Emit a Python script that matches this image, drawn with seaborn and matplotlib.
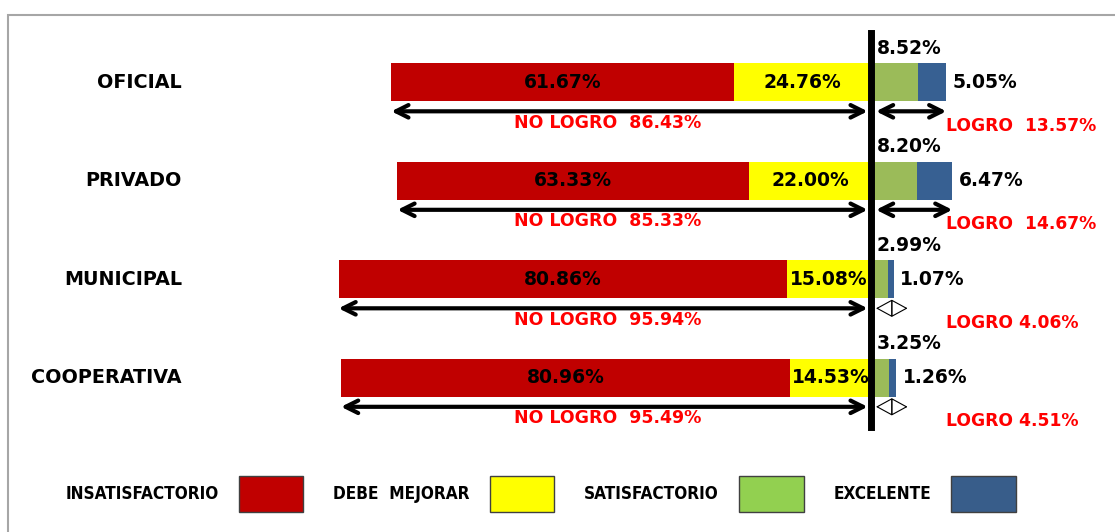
import numpy as np
import matplotlib
matplotlib.use("Agg")
import matplotlib.pyplot as plt
from matplotlib.patches import Patch, Rectangle
import seaborn as sns

categories = ["OFICIAL", "PRIVADO", "MUNICIPAL", "COOPERATIVA"]
insatisfactorio = [61.67, 63.33, 80.86, 80.96]
debe_mejorar = [24.76, 22.00, 15.08, 14.53]
satisfactorio = [8.52, 8.20, 2.99, 3.25]
excelente = [5.05, 6.47, 1.07, 1.26]
no_logro = [86.43, 85.33, 95.94, 95.49]
logro = [13.57, 14.67, 4.06, 4.51]
legend_labels = ["INSATISFACTORIO", "DEBE  MEJORAR", "SATISFACTORIO", "EXCELENTE"]

sns.set_style("white")
plt.rcParams["font.family"] = ["DejaVu Sans"]
plt.rcParams["text.color"] = "black"

RED, YELLOW, GREEN, BLUE = "#C00000", "#FFFF00", "#9BBB59", "#376092"
LEG_COLORS = ["#C00000", "#FFFF00", "#92D050", "#385D8A"]

fig = plt.figure(figsize=(11.15, 5.32), dpi=100)
ax = fig.add_axes([0, 105 / 532, 1, 394 / 532])

ins = np.array(insatisfactorio)
deb = np.array(debe_mejorar)
sat = np.array(satisfactorio)
exc = np.array(excelente)

bw = 0.39
# stacked bars drawn from the outside in so the inner segment covers the outer
for vals, col in [(-(ins + deb), RED), (-deb, YELLOW), (sat + exc, BLUE), (sat, GREEN)]:
    sns.barplot(x=vals, y=categories, orient="h", color=col, saturation=1,
                width=bw, linewidth=0, errorbar=None, ax=ax)

ax.set_xlim(-871 / 5.55, (1115 - 871) / 5.55)
ax.set_ylim(3.5, -0.5)
ax.set_xlabel("")
ax.set_ylabel("")
ax.set_xticks([])
ax.set_yticks([])
ax.set_yticks(np.arange(-0.5, 4.0, 1.0), minor=True)
ax.tick_params(axis="y", which="minor", length=4, width=2.5, direction="out",
               labelleft=False, color="black")
for s in ["top", "right", "bottom"]:
    ax.spines[s].set_visible(False)
ax.spines["left"].set_position(("data", 0))
ax.spines["left"].set_linewidth(5)
ax.spines["left"].set_color("black")
ax.patch.set_alpha(0)

tf = dict(fontsize=13.5, fontweight="bold", color="black")
for i, cat in enumerate(categories):
    ax.text(182 / 1115, i, cat, transform=ax.get_yaxis_transform(),
            ha="right", va="center", fontsize=13.8, fontweight="bold")
    ax.text(-(deb[i] + ins[i] / 2), i, f"{ins[i]:.2f}%", ha="center", va="center", **tf)
    ax.text(-deb[i] / 2, i, f"{deb[i]:.2f}%", ha="center", va="center", **tf)
    ax.text(1.0, i - 0.345, f"{sat[i]:.2f}%", ha="left", va="center", **tf)
    ax.text(sat[i] + exc[i] + 1.2, i, f"{exc[i]:.2f}%", ha="left", va="center", **tf)

    ya = i + 0.295
    ax.annotate("", xy=(-no_logro[i], ya), xytext=(-0.6, ya),
                arrowprops=dict(arrowstyle="<->,head_length=0.9,head_width=0.45",
                                lw=3, color="black", shrinkA=0, shrinkB=0))
    if logro[i] > 10:
        ax.annotate("", xy=(0.9, ya), xytext=(logro[i], ya),
                    arrowprops=dict(arrowstyle="<->,head_length=0.9,head_width=0.45",
                                    lw=3, color="black", shrinkA=0, shrinkB=0))
        lg = f"LOGRO  {logro[i]:.2f}%"
    else:
        ax.annotate("", xy=(0.9, ya), xytext=(6.6, ya),
                    arrowprops=dict(arrowstyle="<|-|>,head_length=0.55,head_width=0.3",
                                    mutation_scale=19, lw=0.8, edgecolor="black",
                                    facecolor="white", shrinkA=0, shrinkB=0))
        lg = f"LOGRO {logro[i]:.2f}%"
    ax.text(-47.4, i + 0.41, f"NO LOGRO  {no_logro[i]:.2f}%", ha="center", va="center",
            fontsize=12.5, fontweight="bold", color="#FF0000")
    ax.text(13.5, i + 0.44, lg, ha="left", va="center",
            fontsize=12.3, fontweight="bold", color="#FF0000")

handles = [Patch(facecolor=c, edgecolor="#404040", linewidth=1) for c in LEG_COLORS]
fig.legend(handles, legend_labels, ncol=4, markerfirst=False, loc="center",
           bbox_to_anchor=(0.485, 1 - 494 / 532), frameon=False,
           handlelength=3.8, handleheight=2.8, handletextpad=1.15, columnspacing=1.75,
           prop=dict(family="DejaVu Sans", stretch="condensed", weight="bold", size=12.3))

fig.add_artist(Rectangle((8 / 1115, -0.05), 1.1, (532 - 15) / 532 + 0.05,
                         transform=fig.transFigure, fill=False,
                         edgecolor="#A6A6A6", linewidth=1.5))

fig.savefig("out.png", dpi=100)
